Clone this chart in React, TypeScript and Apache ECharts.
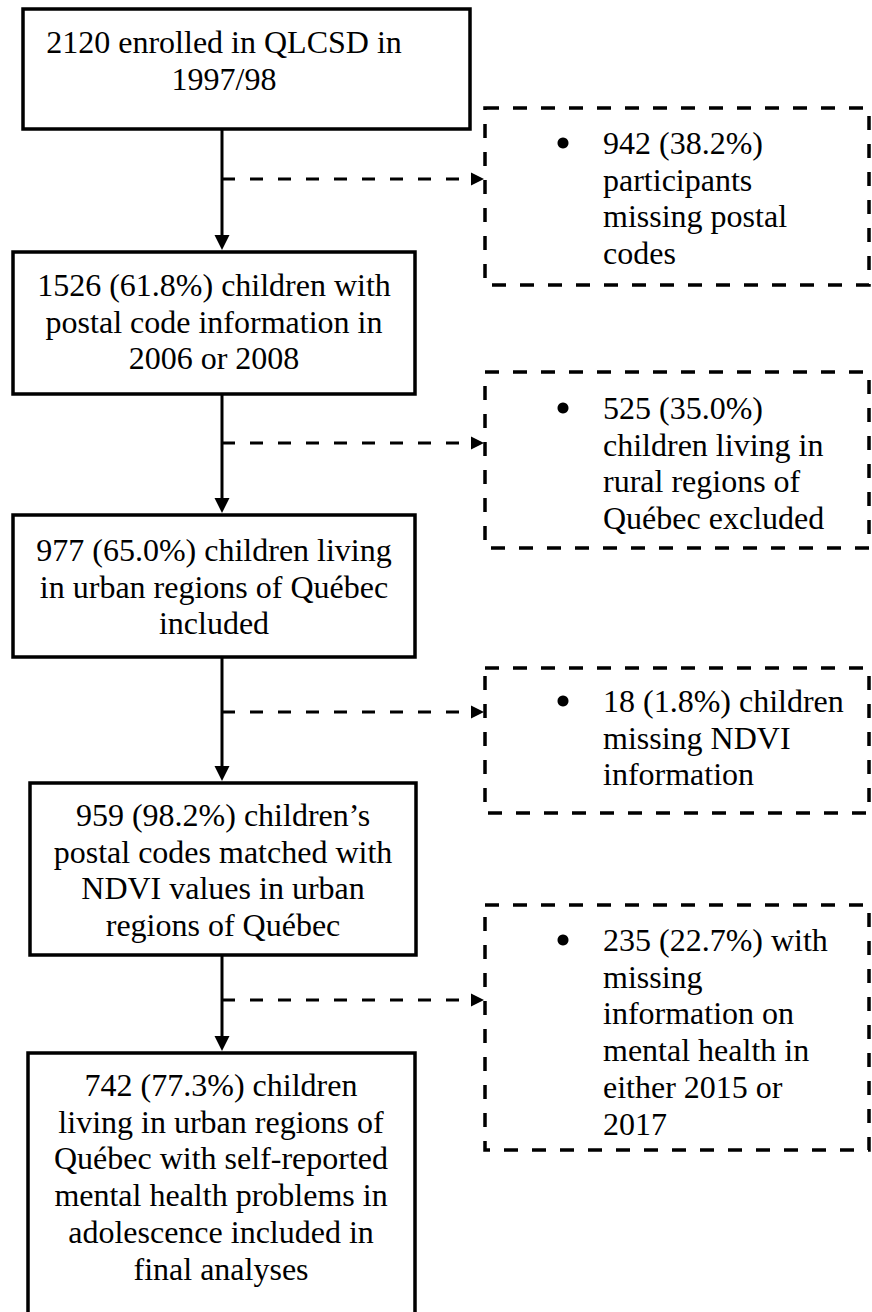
import React, { useEffect, useRef } from "react";
import * as echarts from "echarts";

const FONT_FAMILY = "Liberation Serif";

// Main (solid) boxes: text lines
const mainBoxLines: string[][] = [
  ["2120 enrolled in QLCSD in", "1997/98"],
  ["1526 (61.8%) children with", "postal code information in", "2006 or 2008"],
  ["977 (65.0%) children living", "in urban regions of Québec", "included"],
  ["959 (98.2%) children\u2019s", "postal codes matched with", "NDVI values in urban", "regions of Québec"],
  [
    "742 (77.3%) children",
    "living in urban regions of",
    "Québec with self-reported",
    "mental health problems in",
    "adolescence included in",
    "final analyses",
  ],
];

// Exclusion (dashed) boxes: text lines
const exclusionLines: string[][] = [
  ["942 (38.2%)", "participants", "missing postal", "codes"],
  ["525 (35.0%)", "children living in", "rural regions of", "Québec excluded"],
  ["18 (1.8%) children", "missing NDVI", "information"],
  ["235 (22.7%) with", "missing", "information on", "mental health in", "either 2015 or", "2017"],
];

// Layout
const mainBoxes = [
  { x1: 23, y1: 9, x2: 470, y2: 129, cx: 224, firstLine: 42 },
  { x1: 13, y1: 252, x2: 415, y2: 394, cx: 214, firstLine: 285 },
  { x1: 13, y1: 515, x2: 415, y2: 657, cx: 214, firstLine: 550 },
  { x1: 30, y1: 783, x2: 416, y2: 955, cx: 223, firstLine: 815 },
  { x1: 28, y1: 1053, x2: 415, y2: 1340, cx: 221, firstLine: 1085 },
];
const dashBoxes = [
  { x1: 485, y1: 108, x2: 869, y2: 285, firstLine: 143 },
  { x1: 485, y1: 372, x2: 869, y2: 548, firstLine: 408 },
  { x1: 485, y1: 668, x2: 869, y2: 813, firstLine: 701 },
  { x1: 485, y1: 905, x2: 869, y2: 1150, firstLine: 940 },
];
const branchY = [179, 443, 712, 1000];
const LINE_H = 36.7;
const AX = 222;

export default function App() {
  const ref = useRef<HTMLDivElement>(null);
  useEffect(() => {
    document.body.style.margin = "0";
    const chart = echarts.init(ref.current!, null, { renderer: "svg" });
    const els: any[] = [];
    els.push({ type: "rect", shape: { x: 0, y: 0, width: 872, height: 1312 }, style: { fill: "#fff" }, silent: true });

    const textStyle = (t: string, align: string) => ({
      text: t,
      fontFamily: FONT_FAMILY,
      fontSize: 32,
      fill: "#000",
      align,
      verticalAlign: "middle",
    });

    mainBoxes.forEach((b, i) => {
      els.push({
        type: "rect",
        shape: { x: b.x1, y: b.y1, width: b.x2 - b.x1, height: b.y2 - b.y1 },
        style: { fill: "#fff", stroke: "#000", lineWidth: 3.5 },
      });
      mainBoxLines[i].forEach((t, j) => {
        els.push({ type: "text", x: b.cx, y: b.firstLine + j * LINE_H, style: textStyle(t, "center") });
      });
    });

    dashBoxes.forEach((b, i) => {
      els.push({
        type: "rect",
        shape: { x: b.x1, y: b.y1, width: b.x2 - b.x1, height: b.y2 - b.y1 },
        style: { fill: "#fff", stroke: "#000", lineWidth: 3.5, lineDash: [14, 14] },
      });
      els.push({ type: "circle", shape: { cx: 563, cy: b.firstLine, r: 5.5 }, style: { fill: "#000" } });
      exclusionLines[i].forEach((t, j) => {
        els.push({ type: "text", x: 603, y: b.firstLine + j * LINE_H, style: textStyle(t, "left") });
      });
    });

    for (let i = 0; i < 4; i++) {
      const top = mainBoxes[i].y2 + 1;
      const bottom = mainBoxes[i + 1].y1 - 2;
      els.push({
        type: "line",
        shape: { x1: AX, y1: top, x2: AX, y2: bottom - 12 },
        style: { stroke: "#000", lineWidth: 3 },
      });
      els.push({
        type: "polygon",
        shape: { points: [[AX - 7.5, bottom - 15], [AX + 7.5, bottom - 15], [AX, bottom]] },
        style: { fill: "#000" },
      });
      const y = branchY[i];
      els.push({
        type: "line",
        shape: { x1: AX, y1: y, x2: 472, y2: y },
        style: { stroke: "#000", lineWidth: 3, lineDash: [13, 15] },
      });
      els.push({
        type: "polygon",
        shape: { points: [[471, y - 6.5], [471, y + 6.5], [484, y]] },
        style: { fill: "#000" },
      });
    }

    chart.setOption({ animation: false, graphic: { elements: els } });
    return () => chart.dispose();
  }, []);
  return <div ref={ref} style={{ width: 872, height: 1312 }} />;
}
